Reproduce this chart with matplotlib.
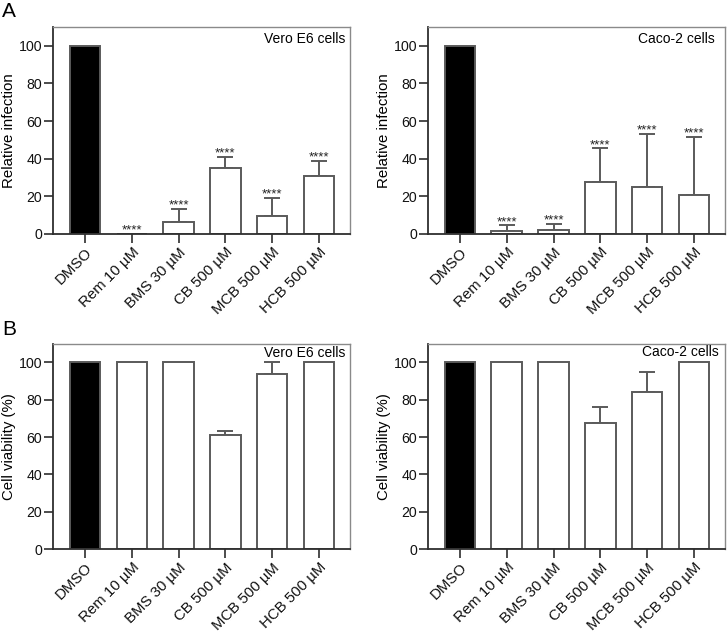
import matplotlib
matplotlib.use("Agg")
import matplotlib.pyplot as plt
import numpy as np

plt.rcParams["font.family"] = ["Liberation Sans", "DejaVu Sans"]

CATEGORIES = ["DMSO", "Rem 10 µM", "BMS 30 µM", "CB 500 µM", "MCB 500 µM", "HCB 500 µM"]

# relative infection (%)
vero_inf = [100, 0, 6.1, 34.8, 9.3, 30.9]
vero_inf_err = [0, 0, 7.2, 6.2, 9.7, 8.0]
caco_inf = [100, 1.6, 2.1, 27.7, 25.2, 20.9]
caco_inf_err = [0, 2.9, 3.1, 17.8, 27.8, 30.8]
inf_stars = ["", "****", "****", "****", "****", "****"]

# cell viability (%)
vero_via = [100, 100, 100, 61.1, 93.8, 100]
vero_via_err = [0, 0, 0, 2.2, 6.2, 0]
caco_via = [100, 100, 100, 67.7, 84.0, 100]
caco_via_err = [0, 0, 0, 8.1, 10.8, 0]

EDGE = "#5a5a5a"
DARK = "#2e2e2e"


def draw_panel(ax, values, errors, ylabel, cell_label, label_off, stars=None):
    x = np.arange(len(CATEGORIES))
    colors = ["black"] + ["white"] * (len(CATEGORIES) - 1)
    ax.bar(x, values, width=0.655, color=colors, edgecolor=EDGE, linewidth=1.4, zorder=2)
    vals = np.array(values)
    errs = np.array(errors)
    has = errs > 0
    ax.errorbar(x[has], vals[has], yerr=[np.zeros(has.sum()), errs[has]],
                fmt="none", ecolor=EDGE, elinewidth=1.4, capsize=6.1,
                capthick=1.4, zorder=1)
    if stars:
        for xi, v, e, s in zip(x, vals, errs, stars):
            if s:
                ax.annotate(s, (xi, v + e), xytext=(0, 0.2), textcoords="offset points",
                            ha="center", va="baseline", fontsize=9.5, color="#222222")
    ax.set_ylim(0, 110)
    ax.set_xlim(-0.68, 5.67)
    ax.set_yticks([0, 20, 40, 60, 80, 100])
    ax.set_xticks(x)
    ax.set_xticklabels(CATEGORIES, rotation=45, ha="right", rotation_mode="anchor")
    ax.tick_params(axis="both", length=6.5, width=1.2, color=DARK,
                   labelcolor="#111111", pad=1.5)
    ax.tick_params(axis="x", labelsize=10.8)
    ax.tick_params(axis="y", labelsize=10.2)
    ax.set_ylabel(ylabel, fontsize=10.8, labelpad=2)
    for side in ("left", "bottom"):
        ax.spines[side].set_color(DARK)
        ax.spines[side].set_linewidth(1.3)
    for side in ("top", "right"):
        ax.spines[side].set_color("#8a8a8a")
        ax.spines[side].set_linewidth(1.0)
    ax.annotate(cell_label, (1, 1), xycoords="axes fraction", xytext=label_off,
                textcoords="offset pixels", ha="right", va="top", fontsize=10)


fig = plt.figure(figsize=(7.27, 6.34), dpi=100)
ax_a1 = fig.add_axes([0.0733, 0.631, 0.4085, 0.3265])
ax_a2 = fig.add_axes([0.589, 0.631, 0.4085, 0.3265])
ax_b1 = fig.add_axes([0.0733, 0.1336, 0.4085, 0.3246])
ax_b2 = fig.add_axes([0.589, 0.1336, 0.4085, 0.3246])

draw_panel(ax_a1, vero_inf, vero_inf_err, "Relative infection", "Vero E6 cells", (-5, -5),
           inf_stars)
draw_panel(ax_a2, caco_inf, caco_inf_err, "Relative infection", "Caco-2 cells", (-10, -5),
           inf_stars)
draw_panel(ax_b1, vero_via, vero_via_err, "Cell viability (%)", "Vero E6 cells", (-5, -2))
draw_panel(ax_b2, caco_via, caco_via_err, "Cell viability (%)", "Caco-2 cells", (-6, -1))

fig.text(0.003, 0.997, "A", fontsize=15, va="top", ha="left")
fig.text(0.003, 0.495, "B", fontsize=15, va="top", ha="left")

fig.savefig("out.png", dpi=100, facecolor="white")
